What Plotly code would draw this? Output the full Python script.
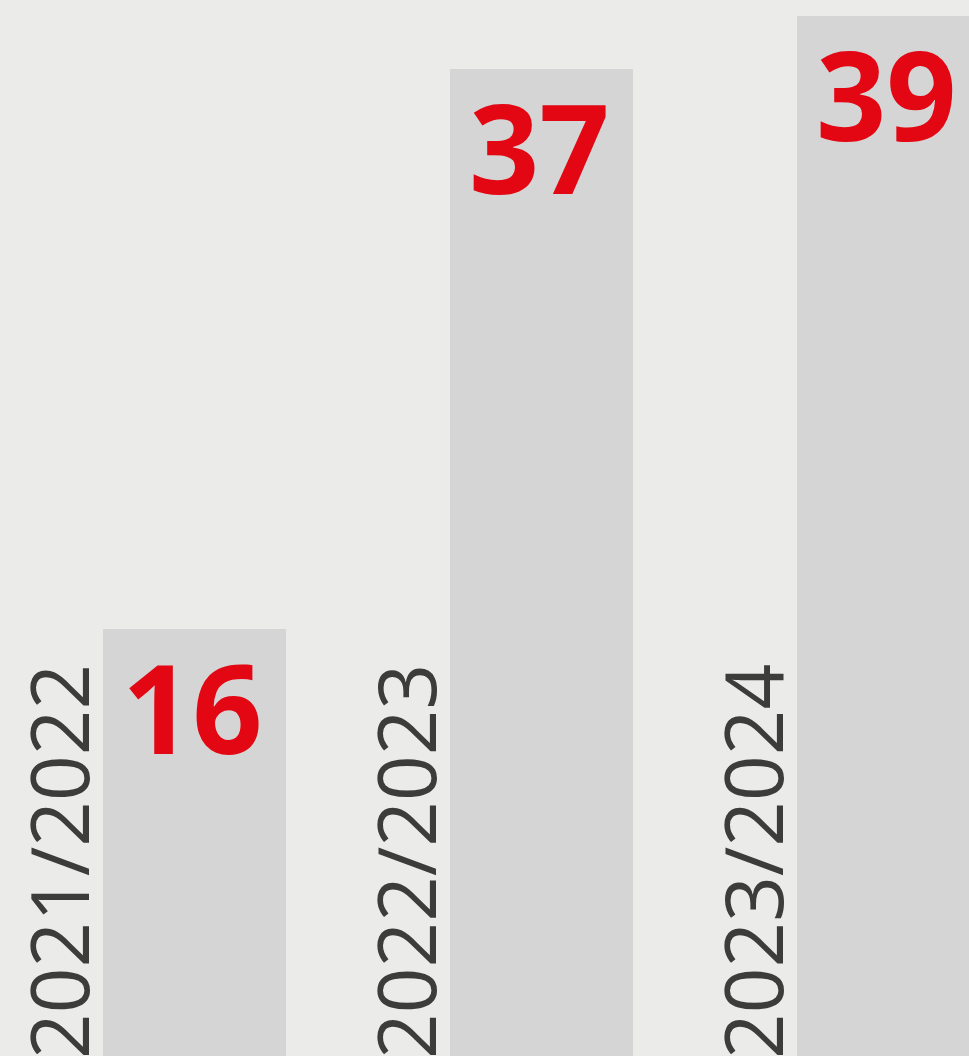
import plotly.graph_objects as go

categories = ["2021/2022", "2022/2023", "2023/2024"]
values = [16, 37, 39]
value_labels = ["16", "37", "39"]

BG = "#EBECEA"
BAR = "#D5D5D5"
RED = "#E30613"
DARK = "#3C3C3B"

x_pos = list(range(len(categories)))

fig = go.Figure()
fig.add_trace(go.Bar(
    x=x_pos, y=values, width=0.527,
    marker=dict(color=BAR, line=dict(width=0)),
    hoverinfo="skip",
))

for xi, v, lab, cat in zip(x_pos, values, value_labels, categories):
    fig.add_annotation(
        x=xi, y=v, xref="x", yref="y", text=lab, showarrow=False,
        xanchor="center", yanchor="top", yshift=8, xshift=-2,
        font=dict(family="Open Sans", size=123, color=RED, weight="bold"),
    )
    fig.add_annotation(
        x=xi, y=0, xref="x", yref="y", text=cat, showarrow=False,
        textangle=-90, xanchor="center", yanchor="bottom", xshift=-137, yshift=-5,
        font=dict(family="Open Sans", size=80, color=DARK),
    )

fig.update_layout(
    width=969, height=1056,
    margin=dict(l=0, r=0, t=0, b=0),
    paper_bgcolor=BG, plot_bgcolor=BG,
    showlegend=False,
    xaxis=dict(range=[-0.5605, 2.232], visible=False, fixedrange=True),
    yaxis=dict(range=[0, 39.6], visible=False, fixedrange=True),
    bargap=0,
)

fig.write_html(
    "out.html",
    config={"displayModeBar": False},
    post_script="document.body.style.margin='0';document.body.style.overflow='hidden';document.body.style.background='#EBECEA';",
)
